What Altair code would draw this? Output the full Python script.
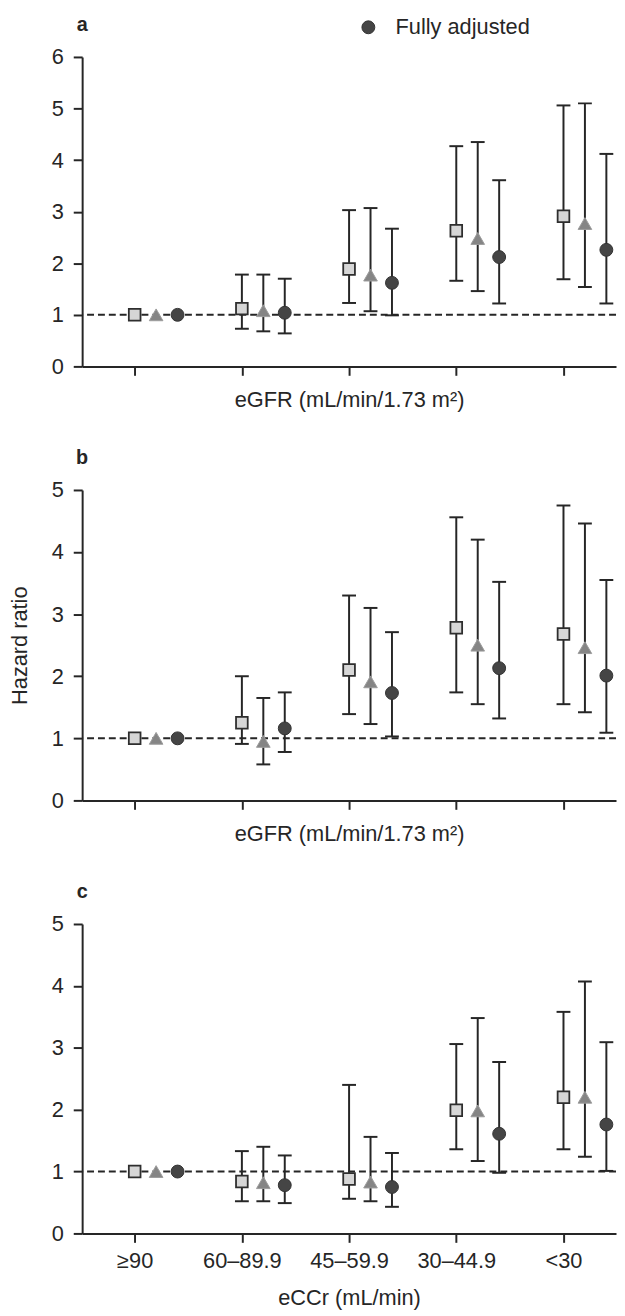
import json
import altair as alt
import pandas as pd

# ---------------- data ----------------
categories = ["≥90", "60–89.9", "45–59.9", "30–44.9", "<30"]
series_names = ["Unadjusted", "Partially adjusted", "Fully adjusted"]
reference_line = [1]

# panel a (eGFR)
a_unadj_hr = [1.00, 1.12, 1.89, 2.63, 2.91]
a_unadj_lo = [None, 0.73, 1.23, 1.66, 1.69]
a_unadj_hi = [None, 1.78, 3.03, 4.27, 5.06]
a_part_hr = [1.00, 1.08, 1.77, 2.48, 2.77]
a_part_lo = [None, 0.68, 1.07, 1.46, 1.54]
a_part_hi = [None, 1.78, 3.07, 4.35, 5.10]
a_full_hr = [1.00, 1.04, 1.62, 2.12, 2.26]
a_full_lo = [None, 0.64, 0.99, 1.22, 1.22]
a_full_hi = [None, 1.70, 2.67, 3.61, 4.12]

# panel b (eGFR)
b_unadj_hr = [1.00, 1.25, 2.10, 2.78, 2.68]
b_unadj_lo = [None, 0.91, 1.39, 1.74, 1.55]
b_unadj_hi = [None, 2.00, 3.30, 4.56, 4.75]
b_part_hr = [1.00, 0.95, 1.91, 2.50, 2.46]
b_part_lo = [None, 0.58, 1.23, 1.55, 1.42]
b_part_hi = [None, 1.65, 3.10, 4.20, 4.46]
b_full_hr = [1.00, 1.16, 1.73, 2.13, 2.01]
b_full_lo = [None, 0.78, 1.03, 1.32, 1.09]
b_full_hi = [None, 1.74, 2.71, 3.52, 3.55]

# panel c (eCCr)
c_unadj_hr = [1.00, 0.84, 0.88, 1.99, 2.20]
c_unadj_lo = [None, 0.52, 0.56, 1.36, 1.36]
c_unadj_hi = [None, 1.33, 2.40, 3.06, 3.58]
c_part_hr = [1.00, 0.82, 0.83, 1.98, 2.20]
c_part_lo = [None, 0.52, 0.52, 1.17, 1.24]
c_part_hi = [None, 1.40, 1.56, 3.48, 4.07]
c_full_hr = [1.00, 0.78, 0.75, 1.61, 1.76]
c_full_lo = [None, 0.49, 0.43, 0.98, 1.01]
c_full_hi = [None, 1.26, 1.30, 2.77, 3.09]

# ---------------- styling ----------------
FONT = "Liberation Sans"
INK = "#262626"
FS = 22
LW = 2
W = 540
XDOM = [-0.49, 4.49]
OFFSET = {"Unadjusted": 0.0, "Partially adjusted": 0.2, "Fully adjusted": 0.4}
STYLE = {
    "Unadjusted": dict(shape="square", size=140, fill="#d6d6d6", stroke="#2e2e2e", strokeWidth=1.8),
    "Partially adjusted": dict(shape="triangle-up", size=190, fill="#858585", stroke="#9c9c9c", strokeWidth=1),
    "Fully adjusted": dict(shape="circle", size=170, fill="#454545", stroke="#333333", strokeWidth=1),
}
LABEL_EXPR = json.dumps(categories) + "[datum.value]"


def build(rows):
    recs = []
    for s, (hr, lo, hi) in zip(series_names, rows):
        for i, cat in enumerate(categories):
            recs.append(dict(series=s, cat=cat, ci=i, hr=hr[i], lo=lo[i], hi=hi[i]))
    df = pd.DataFrame(recs)
    df["xpos"] = df["ci"] + df["series"].map(OFFSET)
    return df


def panel(df, letter, ymax, h, xtitle, title_y, show_labels, ytitle=None, legend=False):
    xscale = alt.Scale(domain=XDOM, nice=False, zero=False)
    yscale = alt.Scale(domain=[0, ymax], nice=False, zero=True)
    xaxis = alt.Axis(
        values=[0, 1, 2, 3, 4], labels=show_labels, labelExpr=LABEL_EXPR,
        labelFontSize=FS, labelPadding=8, labelColor=INK, labelFlush=False,
        labelOverlap=False, tickSize=9, tickWidth=LW, tickColor=INK,
        domainColor=INK, domainWidth=LW, grid=False,
        titleFontSize=FS, titleFontWeight="normal", titleColor=INK,
        titleY=title_y, titleBaseline="top",
    )
    ykw = dict(
        values=list(range(ymax + 1)), format="d", labelFontSize=FS, labelPadding=10,
        labelColor=INK, tickSize=9, tickWidth=LW, tickColor=INK,
        domainColor=INK, domainWidth=LW, grid=False,
    )
    if ytitle:
        ykw.update(titleFontSize=FS, titleFontWeight="normal", titleColor=INK,
                   titleX=-63, titleY=h / 2, titleAngle=270, titleBaseline="middle")
    yaxis = alt.Axis(**ykw)

    X = alt.X("xpos:Q", scale=xscale, axis=xaxis, title=xtitle)

    def Y(field):
        return alt.Y(f"{field}:Q", scale=yscale, axis=yaxis, title=ytitle)

    base = alt.Chart(df)
    ref = alt.Chart(pd.DataFrame({"ref": reference_line})).mark_rule(
        strokeDash=[7, 4], color=INK, strokeWidth=LW
    ).encode(y=Y("ref"))
    bars = base.transform_filter("isValid(datum.lo)")
    stems = bars.mark_rule(color=INK, strokeWidth=LW).encode(x=X, y=Y("lo"), y2="hi:Q")
    cap_lo = bars.mark_tick(orient="horizontal", size=14, thickness=LW, color=INK, opacity=1).encode(x=X, y=Y("lo"))
    cap_hi = bars.mark_tick(orient="horizontal", size=14, thickness=LW, color=INK, opacity=1).encode(x=X, y=Y("hi"))
    layers = [ref, stems, cap_lo, cap_hi]
    for s in series_names:
        st = STYLE[s]
        layers.append(
            base.transform_filter(alt.datum.series == s)
            .mark_point(filled=True, opacity=1, **st)
            .encode(x=X, y=Y("hr"))
        )
    lab = alt.Chart(pd.DataFrame({"lab": [letter]})).mark_text(
        fontSize=20, fontWeight="bold", color=INK, align="center", baseline="middle"
    ).encode(text="lab:N", x=alt.value(0), y=alt.value(-32))
    layers.append(lab)
    if legend:
        leg = pd.DataFrame({"series": ["Fully adjusted"]})
        st = STYLE["Fully adjusted"]
        layers.append(alt.Chart(leg).mark_point(filled=True, opacity=1, **st).encode(
            x=alt.value(289.5), y=alt.value(-30)))
        layers.append(alt.Chart(leg).mark_text(
            fontSize=FS, color=INK, align="left", baseline="middle"
        ).encode(text="series:N", x=alt.value(317), y=alt.value(-30)))
    return alt.layer(*layers).properties(width=W, height=h)


pa = panel(build([(a_unadj_hr, a_unadj_lo, a_unadj_hi), (a_part_hr, a_part_lo, a_part_hi),
                  (a_full_hr, a_full_lo, a_full_hi)]),
           "a", 6, 313, "eGFR (mL/min/1.73 m²)", 24, False, legend=True)
pb = panel(build([(b_unadj_hr, b_unadj_lo, b_unadj_hi), (b_part_hr, b_part_lo, b_part_hi),
                  (b_full_hr, b_full_lo, b_full_hi)]),
           "b", 5, 314, "eGFR (mL/min/1.73 m²)", 24, False, ytitle="Hazard ratio")
pc = panel(build([(c_unadj_hr, c_unadj_lo, c_unadj_hi), (c_part_hr, c_part_lo, c_part_hi),
                  (c_full_hr, c_full_lo, c_full_hi)]),
           "c", 5, 313, "eCCr (mL/min)", 55, True)

chart = (
    alt.vconcat(pa, pb, pc, spacing=125, bounds="flush")
    .properties(padding={"left": 1, "top": 0, "right": 0, "bottom": 0})
    .configure(font=FONT)
    .configure_view(strokeWidth=0)
)

chart.save("out.html", embed_options={"renderer": "svg", "actions": False})
